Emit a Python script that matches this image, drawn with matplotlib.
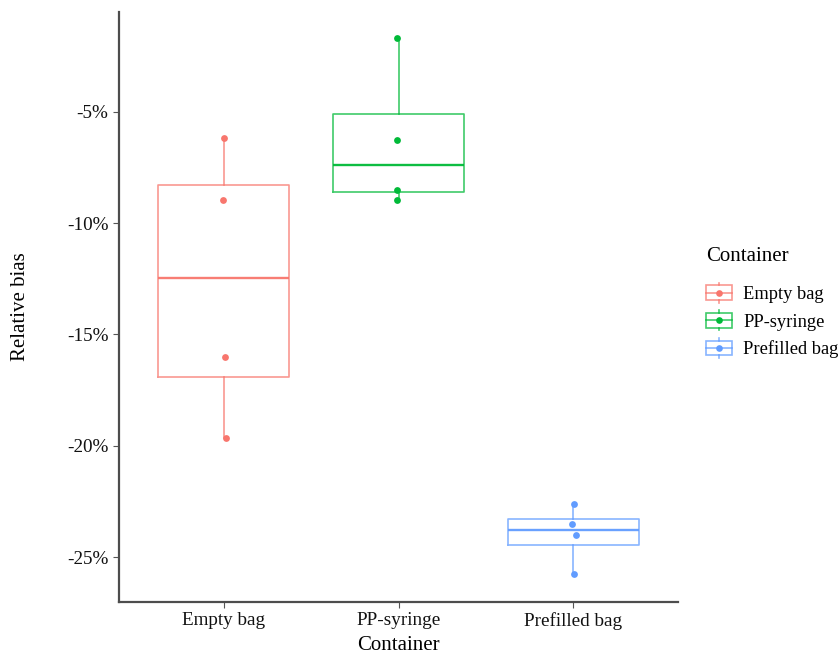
import matplotlib
matplotlib.use("Agg")
import matplotlib.pyplot as plt
import numpy as np
from matplotlib.legend_handler import HandlerBase
from matplotlib.patches import Rectangle
from matplotlib.lines import Line2D
from matplotlib.ticker import FuncFormatter

categories = ["Empty bag", "PP-syringe", "Prefilled bag"]
empty_bag = [-6.17, -8.96, -16.0, -19.65]
pp_syringe = [-1.67, -6.26, -8.5, -8.96]
prefilled_bag = [-22.6, -23.5, -24.03, -25.78]
jitter = [[0.0, -0.006, 0.008, 0.013],
          [-0.01, -0.01, -0.01, -0.01],
          [0.004, -0.008, 0.014, 0.006]]
colors = ["#F8766D", "#00BA38", "#619CFF"]
yticks = [-5, -10, -15, -20, -25]

data = [empty_bag, pp_syringe, prefilled_bag]

plt.rcParams['font.family'] = ['Liberation Serif', 'DejaVu Serif']

fig = plt.figure(figsize=(8.39, 6.57), dpi=100)
W, H = 839, 657
ax = fig.add_axes([119 / W, 1 - 602 / H, (678 - 119) / W, (602 - 12) / H])

positions = np.arange(len(categories))
bp = ax.boxplot(data, positions=positions, widths=0.75, whis=1.5,
                showfliers=False, showcaps=False, patch_artist=False,
                manage_ticks=False)
for i, c in enumerate(colors):
    bp['boxes'][i].set(color=c, linewidth=1.2, alpha=0.75)
    bp['medians'][i].set(color=c, linewidth=1.7, alpha=0.95)
    for w in bp['whiskers'][2 * i:2 * i + 2]:
        w.set(color=c, linewidth=1.2, alpha=0.75)

for i, (vals, c) in enumerate(zip(data, colors)):
    xs = positions[i] + np.array(jitter[i])
    ax.scatter(xs, vals, s=24, color=c, zorder=3, linewidths=0)

ax.set_xlim(-0.6, 2.6)
ax.set_ylim(-27.02, -0.51)
ax.set_xticks(positions)
ax.set_xticklabels(categories)
ax.set_yticks(yticks)
ax.yaxis.set_major_formatter(FuncFormatter(lambda v, p: f"{int(round(v))}%"))
ax.tick_params(axis='both', labelsize=13.8, length=4.5, width=0.8,
               color='#555555', labelcolor='#111111', pad=3)
for s in ['top', 'right']:
    ax.spines[s].set_visible(False)
for s in ['left', 'bottom']:
    ax.spines[s].set_color('#4d4d4d')
    ax.spines[s].set_linewidth(1.6)

ax.set_xlabel("Container", fontsize=15, labelpad=4)
ax.set_ylabel("Relative bias", fontsize=15, labelpad=27)


class BoxHandler(HandlerBase):
    def create_artists(self, legend, orig_handle, xdescent, ydescent,
                       width, height, fontsize, trans):
        c = orig_handle.get_color()
        x0, y0 = -xdescent, -ydescent
        cx, cy = x0 + width / 2, y0 + height / 2
        bh = height * 0.74
        rect = Rectangle((x0, cy - bh / 2), width, bh, fill=False,
                         edgecolor=c, linewidth=1.2, alpha=0.75, transform=trans)
        med = Line2D([x0, x0 + width], [cy, cy], color=c, linewidth=1.2,
                     alpha=0.75, transform=trans)
        w1 = Line2D([cx, cx], [cy + bh / 2, y0 + height], color=c,
                    linewidth=1.2, alpha=0.75, transform=trans)
        w2 = Line2D([cx, cx], [y0, cy - bh / 2], color=c,
                    linewidth=1.2, alpha=0.75, transform=trans)
        dot = Line2D([cx], [cy], marker='o', markersize=4.8, color=c,
                     markeredgewidth=0, linestyle='none', transform=trans)
        return [rect, med, w1, w2, dot]


handles = [Line2D([], [], color=c) for c in colors]
leg = fig.legend(handles, categories, loc='upper left',
                 bbox_to_anchor=(706 / W, 1 - 247 / H),
                 bbox_transform=fig.transFigure, frameon=False,
                 title="Container", title_fontsize=15, fontsize=13.3,
                 handler_map={Line2D: BoxHandler()},
                 handlelength=1.4, handleheight=1.3, labelspacing=0.4,
                 handletextpad=0.6, alignment='left', borderaxespad=0,
                 borderpad=0)
leg._legend_box.sep = 12

fig.savefig("out.png", dpi=100)
